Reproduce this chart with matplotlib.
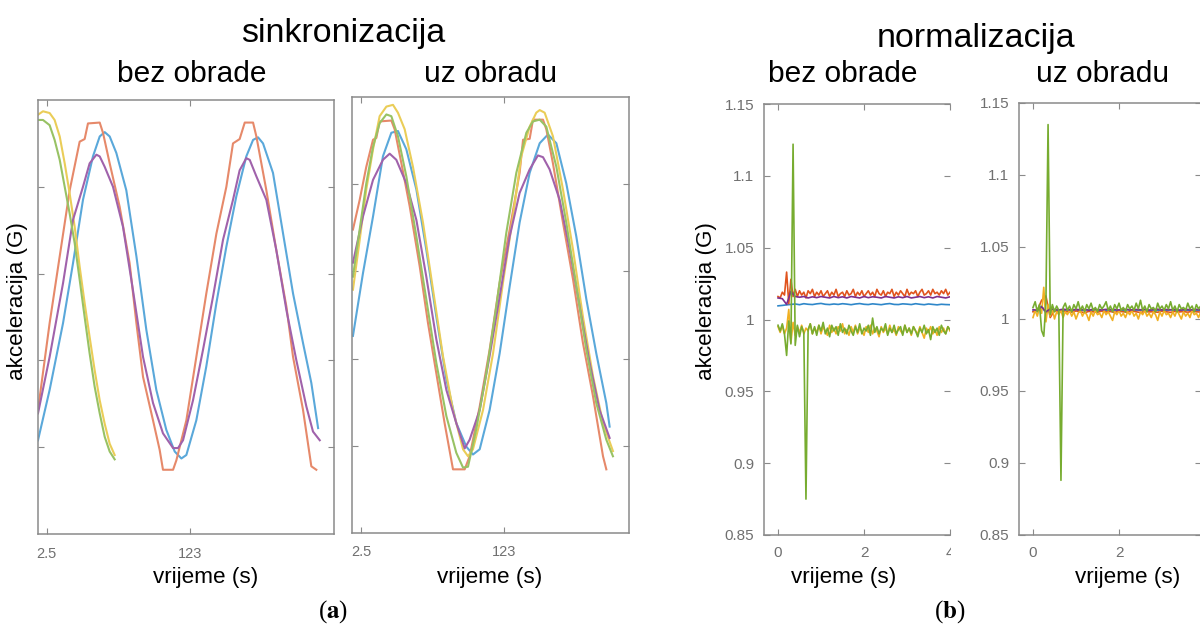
import numpy as np
import matplotlib
matplotlib.use('Agg')
import matplotlib.pyplot as plt
from matplotlib.patches import Rectangle

plt.rcParams['font.family'] = ['Liberation Sans', 'DejaVu Sans']
plt.rcParams['mathtext.fontset'] = 'stix'

# ------------------------------------------------------------------ data
# (a) sinkronizacija -- bez obrade
la_blue_x = [-4.8, 5.0, 16.3, 24.7, 33.1, 41.5, 47.2, 51.4, 55.6, 61.2, 69.6, 78.1, 86.5, 94.9, 103.3, 110.4, 116.0,
             120.2, 128.6, 137.0, 145.5, 153.9, 162.3, 170.7, 176.4, 180.6, 184.8, 193.2, 201.7, 210.1, 218.5, 225.5, 231.2]
la_blue_y = [1.08, 1.66, 2.43, 3.12, 3.85, 4.35, 4.58, 4.63, 4.58, 4.39, 3.96, 3.20, 2.35, 1.66, 1.20, 0.95, 0.87,
             0.91, 1.31, 1.93, 2.66, 3.31, 3.89, 4.35, 4.54, 4.57, 4.50, 4.16, 3.46, 2.77, 2.20, 1.74, 1.22]
la_orange_x = [-4.8, 5.0, 13.5, 21.9, 30.3, 34.5, 37.3, 47.2, 50.0, 55.6, 64.0, 72.4, 78.1, 83.7, 92.1, 97.7, 100.5,
               109.0, 111.8, 120.2, 128.6, 137.0, 145.5, 153.9, 159.5, 165.1, 169.4, 176.4, 179.2, 187.6, 196.0, 204.5,
               210.1, 218.5, 225.5, 229.7]
la_orange_y = [1.43, 2.43, 3.20, 3.96, 4.52, 4.55, 4.73, 4.74, 4.62, 4.27, 3.77, 3.12, 2.43, 1.81, 1.31, 0.97, 0.74,
               0.74, 0.85, 1.31, 2.04, 2.77, 3.46, 4.00, 4.50, 4.55, 4.74, 4.74, 4.58, 3.96, 3.27, 2.62,
               2.04, 1.43, 0.78, 0.74]
la_yellow_x = [-4.8, -0.6, 5.0, 9.2, 13.5, 17.7, 21.9, 26.1, 30.3, 34.5, 38.7, 42.9, 47.2, 51.4, 55.6, 59.8]
la_yellow_y = [4.83, 4.87, 4.85, 4.77, 4.58, 4.27, 3.92, 3.54, 3.08, 2.66, 2.27, 1.89, 1.54, 1.27, 1.04, 0.91]
la_purple_x = [-4.8, 5.0, 16.3, 24.7, 33.1, 38.7, 44.4, 47.2, 51.4, 58.4, 66.8, 75.2, 83.7, 92.1, 100.5, 109.0, 113.2,
               117.4, 125.8, 134.2, 142.6, 151.1, 159.5, 165.1, 170.7, 173.6, 179.2, 187.6, 196.0, 204.5, 212.9, 221.3,
               226.9, 232.6]
la_purple_y = [1.39, 2.04, 2.89, 3.62, 4.00, 4.27, 4.37, 4.35, 4.23, 4.00, 3.54, 2.81, 2.04, 1.51, 1.16, 0.99, 0.99,
               1.08, 1.54, 2.12, 2.73, 3.39, 3.85, 4.19, 4.33, 4.31, 4.12, 3.85, 3.27, 2.58, 2.00, 1.47,
               1.18, 1.08]
la_green_x = [-4.8, -0.6, 5.0, 9.2, 13.5, 17.7, 21.9, 26.1, 30.3, 34.5, 38.7, 42.9, 47.2, 51.4, 55.6, 59.8]
la_green_y = [4.77, 4.77, 4.71, 4.54, 4.31, 4.00, 3.69, 3.35, 2.93, 2.50, 2.08, 1.70, 1.39, 1.12, 0.95, 0.86]

# (a) sinkronizacija -- uz obradu
ra_blue_x = [-4.6, 3.9, 12.4, 20.8, 27.9, 33.5, 40.6, 49.1, 57.5, 66.0, 74.5, 82.9, 91.4, 97.0, 102.7, 111.1, 119.6,
             128.1, 136.5, 145.0, 153.5, 160.5, 167.6, 176.0, 184.5, 193.0, 201.4, 209.9, 212.7]
ra_blue_y = [2.26, 2.98, 3.63, 4.32, 4.59, 4.61, 4.40, 3.94, 3.25, 2.48, 1.76, 1.26, 0.99, 0.90, 0.96, 1.41, 2.06,
             2.83, 3.56, 4.13, 4.47, 4.57, 4.47, 4.01, 3.40, 2.68, 2.06, 1.49, 1.22]
ra_orange_x = [-4.6, 1.1, 6.7, 12.4, 15.2, 18.0, 27.9, 30.7, 36.4, 43.4, 51.9, 58.9, 66.0, 73.0, 80.1, 90.0, 94.2,
               102.7, 111.1, 119.6, 128.1, 136.5, 139.4, 145.0, 147.8, 156.3, 159.1, 164.7, 173.2, 181.7, 190.1,
               198.6, 207.1, 209.9]
ra_orange_y = [3.48, 3.82, 4.20, 4.51, 4.53, 4.72, 4.73, 4.63, 4.24, 3.75, 3.06, 2.41, 1.83, 1.26, 0.73, 0.73, 0.88,
               1.45, 2.10, 2.87, 3.48, 4.13, 4.51, 4.52, 4.74, 4.74, 4.63, 4.24, 3.56, 2.91, 2.18,
               1.57, 0.88, 0.73]
ra_yellow_x = [-4.6, 1.1, 6.7, 12.4, 18.0, 23.7, 29.3, 33.5, 39.2, 46.2, 54.7, 63.2, 71.6, 80.1, 88.6, 92.8, 97.0,
               105.5, 114.0, 122.4, 130.9, 137.9, 145.0, 150.6, 153.5, 157.7, 164.7, 173.2, 181.7, 190.1, 198.6,
               207.1, 215.5]
ra_yellow_y = [2.79, 3.36, 3.94, 4.40, 4.78, 4.89, 4.91, 4.82, 4.63, 4.20, 3.56, 2.79, 2.03, 1.41, 0.96, 0.88, 0.96,
               1.41, 2.06, 2.87, 3.63, 4.32, 4.66, 4.82, 4.85, 4.82, 4.55, 3.94, 3.25, 2.48, 1.80,
               1.26, 0.94]
ra_purple_x = [-4.6, 3.9, 12.4, 20.8, 26.5, 32.1, 40.6, 49.1, 57.5, 66.0, 74.5, 82.9, 90.0, 94.2, 102.7, 111.1, 119.6,
               128.1, 136.5, 145.0, 152.0, 156.3, 161.9, 170.4, 178.9, 187.3, 195.8, 204.2, 212.7]
ra_purple_y = [3.10, 3.63, 4.05, 4.28, 4.35, 4.28, 4.01, 3.59, 2.94, 2.22, 1.64, 1.26, 0.97, 1.07, 1.41, 2.03, 2.71,
               3.40, 3.90, 4.17, 4.33, 4.31, 4.17, 3.82, 3.25, 2.60, 1.95, 1.41, 1.09]
ra_green_x = [-4.6, 1.1, 6.7, 12.4, 18.0, 23.7, 27.9, 33.5, 40.6, 49.1, 57.5, 66.0, 74.5, 82.9, 88.6, 92.8, 99.8,
              108.3, 116.8, 125.2, 133.7, 142.2, 147.8, 153.5, 159.1, 167.6, 176.0, 184.5, 193.0, 201.4, 209.9, 215.5]
ra_green_y = [2.94, 3.48, 4.01, 4.43, 4.70, 4.80, 4.78, 4.55, 4.09, 3.40, 2.68, 1.95, 1.34, 0.92, 0.75, 0.76, 1.19,
              1.83, 2.60, 3.44, 4.13, 4.59, 4.72, 4.74, 4.66, 4.20, 3.56, 2.83, 2.10, 1.49, 1.07, 0.88]

a_xticks = [2.5, 123]
a_xticklabels = ['2.5', '123']

# (b) normalizacija -- bez obrade (samples spread evenly over 0..4 s)
lb_blue = [1.0095, 1.0098, 1.0102, 1.0105, 1.0108, 1.0103, 1.0110, 1.0106, 1.0104, 1.0109, 1.0112, 1.0106, 1.0104,
           1.0108, 1.0105, 1.0110, 1.0107, 1.0103, 1.0108, 1.0111, 1.0106, 1.0104, 1.0109, 1.0106, 1.0103, 1.0108,
           1.0111, 1.0105, 1.0104, 1.0109, 1.0107, 1.0104, 1.0110, 1.0106, 1.0103, 1.0108, 1.0105, 1.0102, 1.0106,
           1.0104, 1.0103]
lb_orange = [1.016, 1.015, 1.019, 1.017, 1.033, 1.011, 1.028, 1.016, 1.021, 1.016, 1.020, 1.017, 1.019, 1.015, 1.020,
             1.018, 1.021, 1.016, 1.019, 1.017, 1.020, 1.016, 1.018, 1.020, 1.016, 1.019, 1.017, 1.021, 1.016, 1.018,
             1.019, 1.016, 1.020, 1.017, 1.018, 1.021, 1.016, 1.019, 1.017, 1.020, 1.016, 1.018, 1.020, 1.017, 1.019,
             1.016, 1.021, 1.018, 1.017, 1.020, 1.016, 1.019, 1.018, 1.021, 1.016, 1.019, 1.017, 1.020, 1.018, 1.016,
             1.021, 1.017, 1.019, 1.018, 1.020, 1.016, 1.019, 1.021, 1.017, 1.018, 1.020, 1.017, 1.021, 1.018, 1.019,
             1.017, 1.020, 1.018, 1.021, 1.017, 1.019]
lb_yellow = [0.995, 0.991, 0.996, 0.990, 0.994, 1.007, 0.984, 0.998, 0.989, 0.995, 0.991, 0.996, 0.990, 0.994, 0.992,
             0.997, 0.990, 0.994, 0.991, 0.996, 0.990, 0.995, 0.992, 0.989, 0.996, 0.991, 0.994, 0.990, 0.995, 0.992,
             0.997, 0.990, 0.993, 0.989, 0.995, 0.991, 0.996, 0.990, 0.994, 0.992, 0.989, 0.995, 0.991, 0.996, 0.990,
             0.994, 0.992, 0.988, 0.995, 0.991, 0.994, 0.990, 0.996, 0.991, 0.993, 0.989, 0.995, 0.992, 0.990, 0.996,
             0.991, 0.994, 0.989, 0.995, 0.992, 0.990, 0.995, 0.991, 0.987, 0.994, 0.991, 0.995, 0.990, 0.993, 0.989,
             0.995, 0.991, 0.994, 0.990, 0.995, 0.992]
lb_purple = [1.015, 1.0145, 1.0105, 1.0195, 1.016, 1.0155, 1.016, 1.015, 1.0158, 1.0152, 1.016, 1.0155, 1.015, 1.016,
             1.0152, 1.0158, 1.015, 1.016, 1.0155, 1.015, 1.016, 1.0152, 1.0158, 1.0155, 1.015, 1.016, 1.0155, 1.015,
             1.0158, 1.0152, 1.016, 1.015, 1.0155, 1.016, 1.0152, 1.0158, 1.015, 1.016, 1.0155, 1.015, 1.0158]
lb_green = [0.996, 0.992, 0.997, 0.990, 0.975, 0.999, 0.983, 1.122, 0.982, 0.996, 0.988, 0.995, 0.991, 0.875, 0.993,
            0.997, 0.990, 0.995, 0.989, 0.996, 0.992, 0.998, 0.990, 0.994, 0.988, 0.996, 0.992, 0.995, 0.989, 0.997,
            0.991, 0.994, 0.990, 0.996, 0.992, 0.989, 0.995, 0.991, 0.997, 0.990, 0.994, 0.992, 0.996, 0.989, 1.001,
            0.991, 0.995, 0.990, 0.994, 0.992, 0.997, 0.989, 0.994, 0.991, 0.996, 0.990, 0.993, 0.995, 0.989, 0.996,
            0.991, 0.994, 0.990, 0.995, 0.992, 0.988, 0.994, 0.991, 0.996, 0.990, 0.993, 0.986, 0.995, 0.991, 0.994,
            0.989, 0.996, 0.992, 0.990, 0.995, 0.993]

# (b) normalizacija -- uz obradu
rb_blue = [1.0055, 1.006, 1.009, 1.004, 1.0065, 1.006, 1.0062, 1.0058, 1.0064, 1.006, 1.0063, 1.0059, 1.0062, 1.0065,
           1.006, 1.0058, 1.0063, 1.0061, 1.0064, 1.0059, 1.0062, 1.006, 1.0065, 1.0058, 1.0062, 1.0061, 1.0064,
           1.0059, 1.0063, 1.006, 1.0062, 1.0058, 1.0064, 1.0061, 1.0059, 1.0063, 1.006, 1.0062, 1.0059, 1.0061, 1.006]
rb_orange = [1.005, 1.006, 1.013, 1.016, 1.001, 1.006, 1.0045, 1.0055, 1.005, 1.0048, 1.0056, 1.005, 1.0044, 1.0053,
             1.005, 1.0047, 1.0055, 1.0049, 1.0052, 1.0046, 1.0054, 1.005, 1.0047, 1.0056, 1.005, 1.0045, 1.0053,
             1.0049, 1.0051, 1.0047, 1.0055, 1.005, 1.0046, 1.0053, 1.0049, 1.0052, 1.0047, 1.0054, 1.005, 1.0048,
             1.0052]
rb_yellow = [1.001, 1.006, 1.002, 1.008, 1.004, 1.022, 0.998, 1.010, 1.002, 1.007, 1.000, 1.005, 1.003, 1.006, 1.001,
             1.005, 1.003, 1.006, 1.002, 1.005, 1.000, 1.004, 1.006, 1.002, 1.005, 1.003, 0.999, 1.005, 1.002, 1.006,
             1.003, 1.004, 1.001, 1.006, 1.003, 1.005, 1.002, 0.999, 1.005, 1.003, 1.006, 1.002, 1.004, 1.001, 1.005,
             1.003, 1.006, 1.002, 1.004, 1.000, 1.005, 1.003, 1.006, 1.002, 1.004, 1.001, 1.005, 1.003, 0.999, 1.005,
             1.002, 1.006, 1.003, 1.004, 1.001, 1.005, 1.002, 1.006, 1.003, 1.000, 1.005, 1.002, 1.004, 1.001, 1.006,
             1.003, 1.004, 1.001, 1.005, 1.003, 1.004]
rb_purple = [1.0065, 1.006, 1.0085, 1.005, 1.007, 1.0066, 1.0063, 1.0068, 1.0065, 1.0062, 1.0067, 1.0064, 1.0066,
             1.0061, 1.0068, 1.0065, 1.0063, 1.0067, 1.0064, 1.0066, 1.0062, 1.0068, 1.0065, 1.0063, 1.0066, 1.0064,
             1.0067, 1.0062, 1.0065, 1.0068, 1.0063, 1.0066, 1.0064, 1.0067, 1.0062, 1.0065, 1.0066, 1.0063, 1.0067,
             1.0064, 1.0065]
rb_green = [1.008, 1.012, 1.005, 1.010, 0.992, 0.988, 1.011, 1.135, 1.003, 1.010, 1.005, 1.009, 1.006, 0.888, 1.008,
            1.011, 1.006, 1.009, 1.005, 1.010, 1.007, 1.012, 1.006, 1.009, 1.005, 1.010, 1.007, 1.011, 1.006, 1.008,
            1.005, 1.010, 1.007, 1.009, 1.012, 1.006, 1.009, 1.005, 1.010, 1.007, 1.011, 1.006, 1.008, 1.005, 1.010,
            1.007, 1.009, 1.006, 1.011, 1.007, 1.013, 1.006, 1.009, 1.005, 1.010, 1.007, 1.008, 1.005, 1.011, 1.007,
            1.009, 1.006, 1.010, 1.007, 1.012, 1.006, 1.009, 1.005, 1.010, 1.007, 1.008, 1.006, 1.011, 1.007, 1.009,
            1.005, 1.010, 1.007, 1.009, 1.006, 1.010]

b_yticks = [0.85, 0.9, 0.95, 1.0, 1.05, 1.1, 1.15]
b_yticklabels = ['0.85', '0.9', '0.95', '1', '1.05', '1.1', '1.15']
b_xticks = [0, 2, 4]
b_xticklabels = ['0', '2', '4']
t_end = 4.0

# ------------------------------------------------------------------ style
ca = {'blue': '#5aa8da', 'orange': '#e6896a', 'yellow': '#eacd58', 'purple': '#a062ab', 'green': '#98c264'}
cb = {'blue': '#2f87c9', 'orange': '#e0541e', 'yellow': '#f0b022', 'purple': '#7e2f8e', 'green': '#77ac30'}
order = ['blue', 'orange', 'yellow', 'purple', 'green']
spine_c = '#8a8a8a'
tick_c = '#707070'

W, H = 1200, 637
fig = plt.figure(figsize=(W / 100, H / 100), dpi=100)


def ax_at(x0, y0, x1, y1):
    return fig.add_axes([x0 / W, 1 - y1 / H, (x1 - x0) / W, (y1 - y0) / H])


def style(ax, pad_x, pad_y, size):
    for s in ax.spines.values():
        s.set_color(spine_c)
        s.set_linewidth(1.1)
    ax.tick_params(direction='in', length=4, width=0.8, color=spine_c, labelcolor=tick_c,
                   labelsize=size, top=True, right=True)
    ax.tick_params(axis='x', pad=pad_x)
    ax.tick_params(axis='y', pad=pad_y)


# (a) left
ax1 = ax_at(38, 100, 334, 534)
la = {'blue': (la_blue_x, la_blue_y), 'orange': (la_orange_x, la_orange_y), 'yellow': (la_yellow_x, la_yellow_y),
      'purple': (la_purple_x, la_purple_y), 'green': (la_green_x, la_green_y)}
for k in order:
    ax1.plot(la[k][0], la[k][1], color=ca[k], lw=1.5)
ax1.set_xlim(-4.8, 244.6)
ax1.set_ylim(0, 5)
ax1.set_xticks(a_xticks)
ax1.set_xticklabels(a_xticklabels)
ax1.set_yticks([1, 2, 3, 4])
ax1.set_yticklabels([])
style(ax1, 9, 4, 10.5)

# (a) right
ax2 = ax_at(352, 97, 629, 533)
ra = {'blue': (ra_blue_x, ra_blue_y), 'orange': (ra_orange_x, ra_orange_y), 'yellow': (ra_yellow_x, ra_yellow_y),
      'purple': (ra_purple_x, ra_purple_y), 'green': (ra_green_x, ra_green_y)}
for k in order:
    ax2.plot(ra[k][0], ra[k][1], color=ca[k], lw=1.5)
ax2.set_xlim(-5.4, 229.1)
ax2.set_ylim(0, 5)
ax2.set_xticks(a_xticks)
ax2.set_xticklabels(a_xticklabels)
ax2.set_yticks([1, 2, 3, 4])
ax2.set_yticklabels([])
style(ax2, 9, 4, 10.5)

# (b) left
ax3 = ax_at(764, 104, 950, 535)
lb = {'blue': lb_blue, 'orange': lb_orange, 'yellow': lb_yellow, 'purple': lb_purple, 'green': lb_green}
for k in order:
    v = lb[k]
    ax3.plot(np.linspace(0, t_end, len(v)), v, color=cb[k], lw=1.2)
ax3.set_xlim(-0.326, 4.0)
ax3.set_ylim(0.85, 1.15)
ax3.set_yticks(b_yticks)
ax3.set_yticklabels(b_yticklabels)
ax3.set_xticks(b_xticks)
ax3.set_xticklabels(b_xticklabels)
style(ax3, 8, 7, 11)
ax3.spines['right'].set_visible(False)

# (b) right (cut by the image edge, the tick at 4 s lies beyond it)
ax4 = ax_at(1019, 103, 1201, 535)
rb = {'blue': rb_blue, 'orange': rb_orange, 'yellow': rb_yellow, 'purple': rb_purple, 'green': rb_green}
for k in order:
    v = rb[k]
    ax4.plot(np.linspace(0, t_end, len(v)), v, color=cb[k], lw=1.2)
ax4.set_xlim(-0.326, 3.907)
ax4.set_ylim(0.85, 1.15)
ax4.set_yticks(b_yticks)
ax4.set_yticklabels(b_yticklabels)
ax4.set_xticks(b_xticks[:2])
ax4.set_xticklabels(b_xticklabels[:2])
style(ax4, 8, 7, 11)

# white mask: the "4" tick label of the left (b) panel is cut in the original
fig.add_artist(Rectangle((951 / W, 1 - 568 / H), 26 / W, 26 / H, transform=fig.transFigure,
                         facecolor='white', edgecolor='none', zorder=10))

# ------------------------------------------------------------------ texts
def ftxt(x, y, s, **kw):
    fig.text(x / W, 1 - y / H, s, **kw)

ftxt(343, 42, 'sinkronizacija', ha='center', va='baseline', fontsize=24.5)
ftxt(976, 47, 'normalizacija', ha='center', va='baseline', fontsize=24.5)
ftxt(192, 82, 'bez obrade', ha='center', va='baseline', fontsize=21.5)
ftxt(491, 82, 'uz obradu', ha='center', va='baseline', fontsize=21.5)
ftxt(843, 82, 'bez obrade', ha='center', va='baseline', fontsize=21.5)
ftxt(1103, 82, 'uz obradu', ha='center', va='baseline', fontsize=21.5)

for xc in (206, 490, 844, 1128):
    ftxt(xc, 583, 'vrijeme (s)', ha='center', va='baseline', fontsize=16.2)
for xc in (18, 707):
    ftxt(xc, 301, 'akceleracija (G)', ha='center', va='center', rotation=90, fontsize=16.2)

ftxt(333, 612, r'($\mathbf{a}$)', ha='center', va='center', fontsize=18, family='Liberation Serif')
ftxt(950, 612, r'($\mathbf{b}$)', ha='center', va='center', fontsize=18, family='Liberation Serif')

fig.savefig('out.png', dpi=100, facecolor='white')
